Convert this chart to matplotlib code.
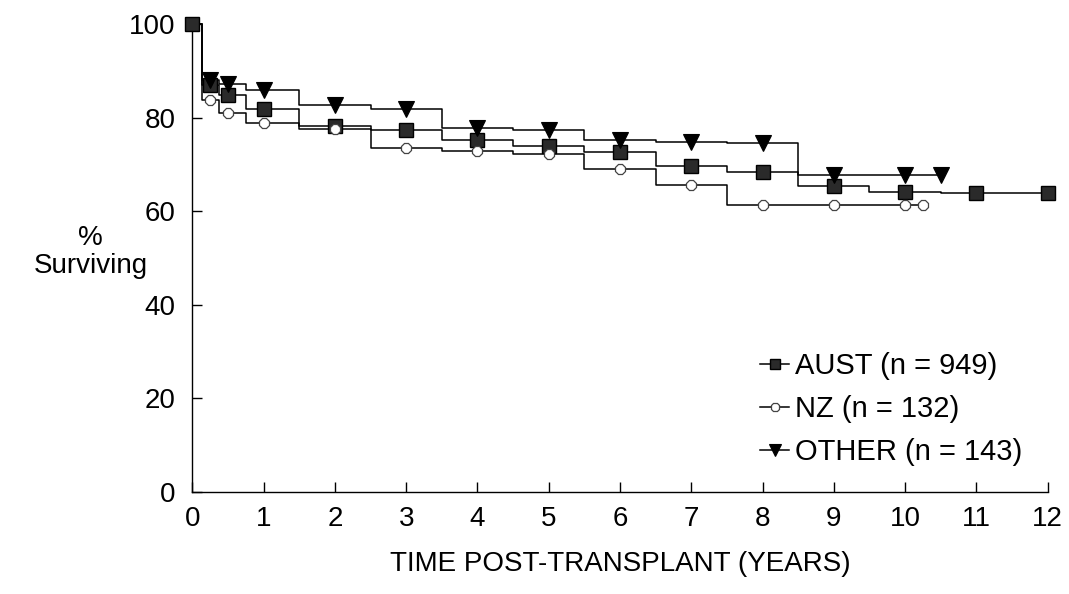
import matplotlib
matplotlib.use("Agg")
import matplotlib.pyplot as plt
import numpy as np

plt.rcParams['font.family'] = ['Liberation Sans', 'DejaVu Sans']

# Kaplan-Meier style step curves: step times (years) and % surviving after each step
aust_t = [0, 0.13, 0.375, 0.75, 1.5, 2.5, 3.5, 4.5, 5.5, 6.5, 7.5, 8.5, 9.5, 10.5, 12]
aust_s = [100, 87.0, 84.8, 81.8, 78.3, 77.4, 75.3, 73.9, 72.8, 69.8, 68.4, 65.4, 64.2, 63.9, 63.9]
nz_t = [0, 0.13, 0.375, 0.75, 1.5, 2.5, 3.5, 4.5, 5.5, 6.5, 7.5, 10.25]
nz_s = [100, 83.8, 81.1, 79.0, 77.7, 73.5, 73.0, 72.3, 69.0, 65.7, 61.3, 61.3]
other_t = [0, 0.13, 0.375, 0.75, 1.5, 2.5, 3.5, 4.5, 5.5, 6.5, 7.5, 8.5, 10.5]
other_s = [100, 88.2, 87.3, 85.9, 82.7, 81.8, 77.8, 77.4, 75.3, 74.9, 74.7, 67.8, 67.8]

# times at which symbols are placed on each curve
aust_marks = [0, 0.25, 0.5, 1, 2, 3, 4, 5, 6, 7, 8, 9, 10, 11, 12]
nz_marks = [0.25, 0.5, 1, 2, 3, 4, 5, 6, 7, 8, 9, 10, 10.25]
other_marks = [0.25, 0.5, 1, 2, 3, 4, 5, 6, 7, 8, 9, 10, 10.5]

labels = ['AUST (n = 949)', 'NZ (n = 132)', 'OTHER (n = 143)']
xticks = list(range(0, 13))
yticks = [0, 20, 40, 60, 80, 100]


def at(t, s, when):
    t = np.asarray(t); s = np.asarray(s)
    idx = np.searchsorted(t, when, side='right') - 1
    return s[idx]


fig = plt.figure(figsize=(10.69, 5.94), dpi=100)
ax = fig.add_axes([0.180, 0.172, 0.800, 0.787])

styles = [
    dict(marker='s', ms=10, mfc='#2a2a2a', mec='black', mew=1.0),
    dict(marker='8', ms=8, mfc='white', mec='#444444', mew=0.9),
    dict(marker='v', ms=11, mfc='black', mec='black', mew=0.8),
]
series = [(aust_t, aust_s, aust_marks), (nz_t, nz_s, nz_marks), (other_t, other_s, other_marks)]

for (t, s, m), st, lab in zip(series, styles, labels):
    ax.step(t, s, where='post', color='black', lw=1.1, clip_on=False)
    ax.plot(m, at(t, s, m), ls='none', clip_on=False, zorder=3, **st)
    ax.plot([], [], color='black', lw=1.1, label=lab, **st)

ax.set_xlim(0, 12)
ax.set_ylim(0, 100)
ax.set_xticks(xticks)
ax.set_yticks(yticks)
for sp in ['top', 'right']:
    ax.spines[sp].set_visible(False)
for sp in ['left', 'bottom']:
    ax.spines[sp].set_linewidth(1.0)
ax.tick_params(axis='both', direction='in', length=7, width=1.0, labelsize=20)
ax.tick_params(axis='y', pad=12)
ax.tick_params(axis='x', pad=10)

ax.set_xlabel('TIME POST-TRANSPLANT (YEARS)', fontsize=20, labelpad=14)
fig.text(0.085, 0.575, '%\nSurviving', ha='center', va='center', fontsize=20, linespacing=1.1)

leg = ax.legend(loc='lower right', bbox_to_anchor=(0.984, 0.03), frameon=False, fontsize=21,
                handlelength=1.0, handletextpad=0.2, labelspacing=0.52, borderaxespad=0,
                markerscale=0.75)

fig.savefig('out.png', dpi=100)
